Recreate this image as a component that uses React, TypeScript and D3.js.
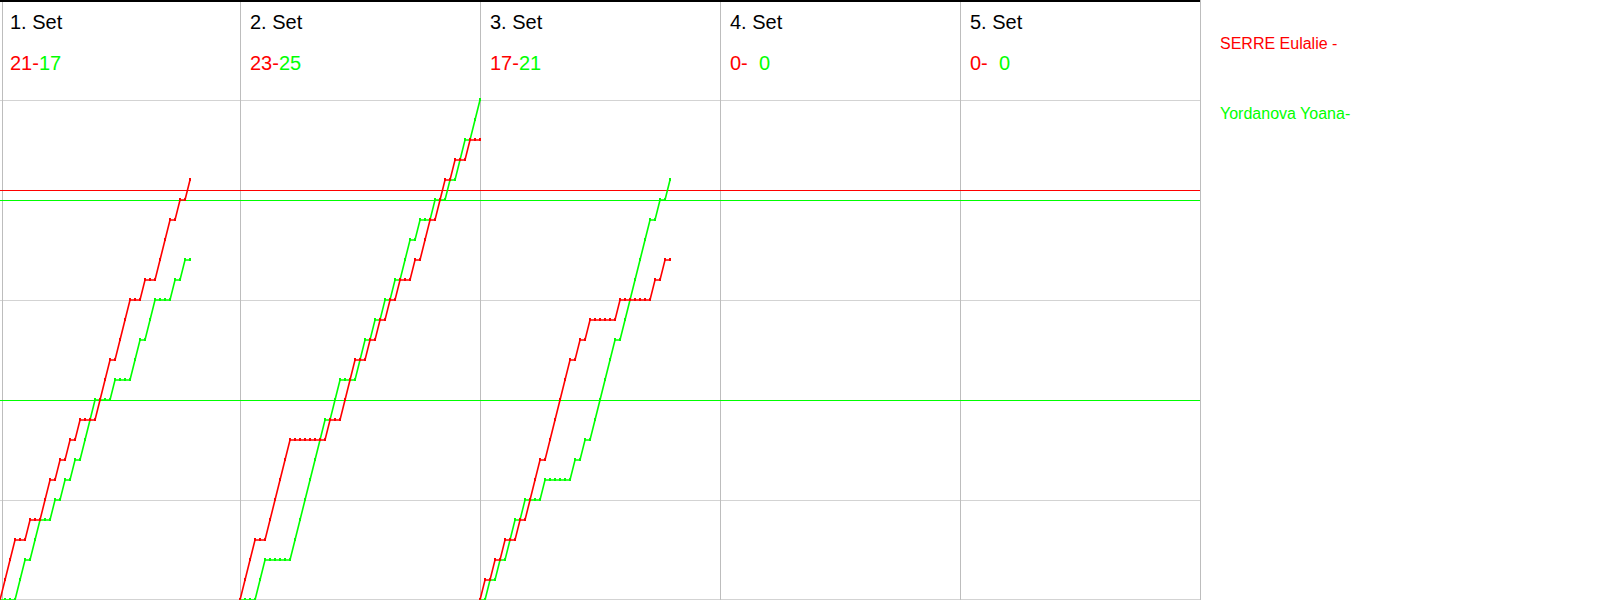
import React from "react";
import * as d3 from "d3";

// ---- data ----
const setTitles = ["1. Set", "2. Set", "3. Set", "4. Set", "5. Set"];
const playerNames = ["SERRE Eulalie -", "Yordanova Yoana-"];
// rally winners per set: R = SERRE (red), G = Yordanova (green)
const set1Winners = "RRRGGRGGRRGRGRGRGGGRRRGRRRGGRGGRRRGRGR".split("");
const set2Winners = "RRRGGRRRRRGGGGGGGRGGRRRGGRGRGRGRGGRGRRGRRGRGGRGG".split("");
const set3Winners = "RGRGRGGRGRRRGRRRRRGRGRGGGGGRGGGGGGRGRG".split("");
const set4Winners: string[] = [];
const set5Winners: string[] = [];
const allSets = [set1Winners, set2Winners, set3Winners, set4Winners, set5Winners];
const redRefLines = [20.5];
const greenRefLines = [20, 10];
const gridScores = [5, 10, 15, 20, 25];

const RED = "#ff0000";
const GREEN = "#00ff00";
const FONT = "'Liberation Sans', Arial, Helvetica, sans-serif";

const RALLIES_PER_PANEL = 48;
const PANELS = 5;

export default function App() {
  const plotW = 1200;
  const H = 600;
  const x = d3.scaleLinear().domain([0, RALLIES_PER_PANEL * PANELS]).range([0, plotW]);
  const y = d3.scaleLinear().domain([0, 30]).range([H, 0]);

  const line = d3
    .line<[number, number]>()
    .x((d) => x(d[0]))
    .y((d) => y(d[1]));

  const panels = allSets.map((winners, s) => {
    const off = s * RALLIES_PER_PANEL;
    let r = 0;
    let g = 0;
    const redPts: [number, number][] = [[off, 0]];
    const greenPts: [number, number][] = [[off, 0]];
    winners.forEach((w, i) => {
      if (w === "R") r++;
      else g++;
      redPts.push([off + i + 1, r]);
      greenPts.push([off + i + 1, g]);
    });
    return { off, r, g, redPts, greenPts, n: winners.length };
  });

  return (
    <svg
      width={1600}
      height={600}
      style={{ position: "absolute", left: 0, top: 0, background: "#fff" }}
      fontFamily={FONT}
    >
      <rect x={0} y={0} width={1600} height={600} fill="#fff" />
      {/* horizontal grid */}
      {gridScores.map((v) => (
        <line key={"h" + v} x1={0} x2={plotW} y1={y(v) + 0.5} y2={y(v) + 0.5} stroke="#d3d3d3" strokeWidth={1} />
      ))}
      <line x1={0} x2={plotW} y1={H - 0.5} y2={H - 0.5} stroke="#d3d3d3" strokeWidth={1} />
      {/* vertical panel lines */}
      <line x1={2.5} x2={2.5} y1={0} y2={H} stroke="#bdbdbd" strokeWidth={1} />
      {d3.range(1, PANELS + 1).map((k) => (
        <line
          key={"v" + k}
          x1={x(k * RALLIES_PER_PANEL) + 0.5}
          x2={x(k * RALLIES_PER_PANEL) + 0.5}
          y1={0}
          y2={H}
          stroke="#bdbdbd"
          strokeWidth={1}
        />
      ))}
      {/* top border */}
      <line x1={0} x2={plotW} y1={1} y2={1} stroke="#000" strokeWidth={2} />

      {/* reference lines */}
      {redRefLines.map((v, i) => (
        <line key={"rr" + i} x1={0} x2={plotW} y1={y(v) + 0.5} y2={y(v) + 0.5} stroke={RED} strokeWidth={1} />
      ))}
      {greenRefLines.map((v, i) => (
        <line key={"gr" + i} x1={0} x2={plotW} y1={y(v) + 0.5} y2={y(v) + 0.5} stroke={GREEN} strokeWidth={1} />
      ))}

      {/* headers */}
      {panels.map((p, s) => (
        <g key={"hd" + s}>
          <text x={x(p.off) + 10} y={29} fontSize={20} fill="#000">
            {setTitles[s]}
          </text>
          <text x={x(p.off) + 10} y={70} fontSize={20} style={{ whiteSpace: "pre" }}>
            <tspan fill={RED}>{p.r + "-"}</tspan>
            <tspan fill={GREEN}>{p.g < 10 ? "  " + p.g : String(p.g)}</tspan>
          </text>
        </g>
      ))}

      {/* score progressions */}
      {panels.map((p, s) =>
        p.n > 0 ? (
          <g key={"ln" + s}>
            <path d={line(p.greenPts) || ""} fill="none" stroke={GREEN} strokeWidth={1.6} />
            {p.greenPts.map((d, i) => (
              <rect key={"gm" + i} x={x(d[0]) - 1} y={y(d[1]) - 2} width={2} height={3} fill={GREEN} />
            ))}
            <path d={line(p.redPts) || ""} fill="none" stroke={RED} strokeWidth={1.6} />
            {p.redPts.map((d, i) => (
              <rect key={"rm" + i} x={x(d[0]) - 1} y={y(d[1]) - 2} width={2} height={3} fill={RED} />
            ))}
          </g>
        ) : null
      )}

      {/* legend */}
      <text x={1220} y={49} fontSize={16} fill={RED}>
        {playerNames[0]}
      </text>
      <text x={1220} y={119} fontSize={16} fill={GREEN}>
        {playerNames[1]}
      </text>
    </svg>
  );
}
